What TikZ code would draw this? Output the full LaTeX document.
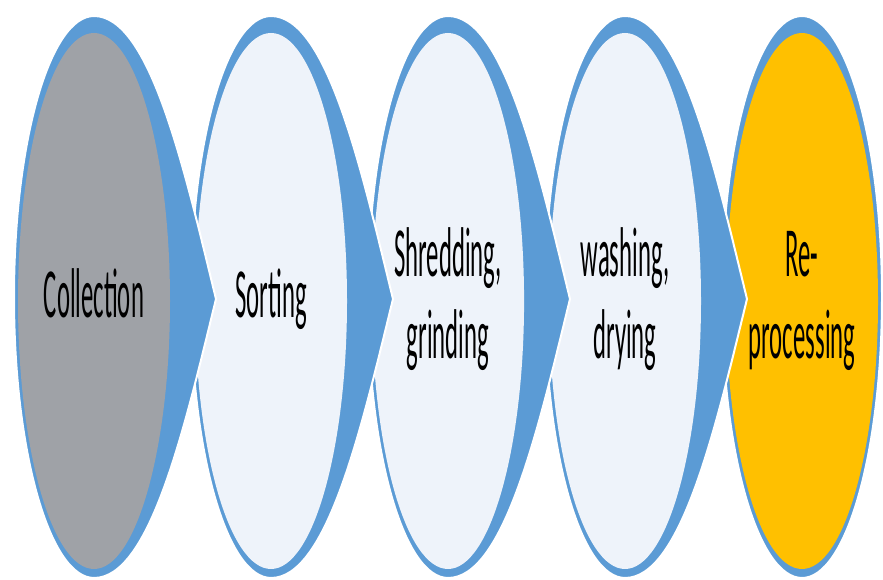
\documentclass[tikz,border=0pt]{standalone}
\usepackage{fontspec}
\setmainfont{Carlito}
\usepackage{graphicx}
\usetikzlibrary{shapes.geometric}

\definecolor{ringblue}{HTML}{5B9BD5}
\definecolor{paleblue}{HTML}{EEF3FA}
\definecolor{stonegray}{HTML}{9FA2A7}
\definecolor{goldfill}{HTML}{FFC000}

\newcommand{\tallbox}[1]{\scalebox{1}[2.85]{\begin{tabular}{@{}c@{}}#1\end{tabular}}}
% blue back of one stage, with its chevron point
\newcommand{\stageback}[1]{%
  \draw[back] (#1,564) arc[start angle=90, end angle=270, x radius=80, y radius=281]
    .. controls (#1+56,2) and (#1+90,150) .. (#1+122,281)
    .. controls (#1+90,412) and (#1+56,564) .. cycle;}

\begin{document}
\begin{tikzpicture}[x=1pt, y=1pt,
    stage/.style={ellipse, minimum width=152pt, minimum height=536pt, inner sep=0pt, font=\fontsize{24.7}{29}\selectfont},
    back/.style={fill=ringblue, draw=white, line width=2pt}
]
\useasboundingbox (0,0) rectangle (883,580);
% drawn right to left, so each point lies over the next stage
\draw[back] (802,283) ellipse[x radius=80, y radius=281];
\node[stage, fill=goldfill] (reproc) at (802,279) {\tallbox{Re-\\processing}};

\stageback{625}
\node[stage, fill=paleblue] (wash) at (625,279) {\tallbox{washing,\\drying}};

\stageback{448}
\node[stage, fill=paleblue] (shred) at (448,279) {\tallbox{Shredding,\\grinding}};

\stageback{271}
\node[stage, fill=paleblue] (sort) at (271,279) {\tallbox{Sorting}};

\stageback{94}
\node[stage, fill=stonegray] (collect) at (94,279) {\tallbox{Collection}};
\end{tikzpicture}
\end{document}
